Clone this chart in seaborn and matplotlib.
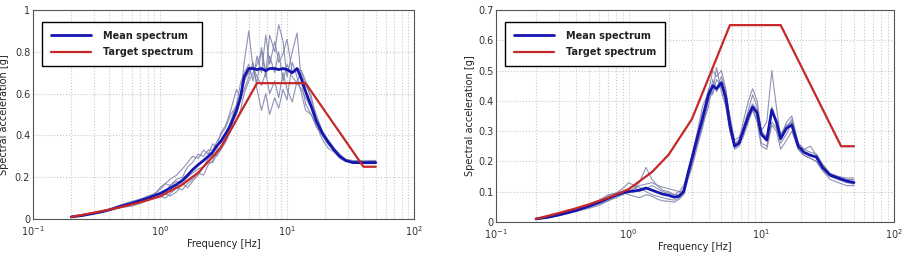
import numpy as np
import pandas as pd
import matplotlib
matplotlib.use('Agg')
import matplotlib.pyplot as plt
import seaborn as sns

# ================================
# Data
# ================================

freq = [0.2, 0.25, 0.3, 0.35, 0.4, 0.5, 0.6, 0.7, 0.8, 0.9,
        1.0, 1.1, 1.2, 1.35, 1.5, 1.65, 1.8, 2.0, 2.2, 2.4,
        2.6, 2.8, 3.0, 3.3, 3.6, 4.0, 4.3, 4.6, 5.0, 5.4,
        5.8, 6.3, 6.8, 7.3, 8.0, 8.6, 9.3, 10, 11, 12,
        13, 14, 15.5, 17, 19, 21, 23.5, 26, 29, 33,
        38, 44, 50]

# target spectrum (same on both panels)
target_freq = [0.2, 0.3, 0.4, 0.5, 0.7, 1.0, 1.5, 2.0, 3.0, 5.8, 14.0, 40.0, 50.0]
target_sa = [0.01, 0.03, 0.045, 0.058, 0.08, 0.108, 0.165, 0.222, 0.34, 0.65, 0.65, 0.25, 0.25]

# left panel
left_mean = [0.010, 0.018, 0.027, 0.035, 0.044, 0.062, 0.075, 0.088, 0.100, 0.112,
             0.122, 0.135, 0.148, 0.165, 0.185, 0.21, 0.235, 0.26, 0.28, 0.30,
             0.32, 0.35, 0.37, 0.41, 0.45, 0.52, 0.58, 0.68, 0.72, 0.72,
             0.715, 0.72, 0.71, 0.72, 0.72, 0.715, 0.72, 0.715, 0.70, 0.72,
             0.67, 0.61, 0.54, 0.47, 0.41, 0.37, 0.33, 0.30, 0.28, 0.27,
             0.27, 0.27, 0.27]
left_rec1 = [0.010, 0.017, 0.026, 0.034, 0.045, 0.065, 0.08, 0.095, 0.11, 0.12,
             0.14, 0.17, 0.19, 0.21, 0.24, 0.27, 0.30, 0.29, 0.33, 0.31,
             0.36, 0.34, 0.41, 0.45, 0.52, 0.62, 0.58, 0.75, 0.90, 0.72,
             0.65, 0.82, 0.70, 0.88, 0.80, 0.93, 0.85, 0.68, 0.80, 0.89,
             0.65, 0.55, 0.50, 0.44, 0.40, 0.36, 0.33, 0.30, 0.28, 0.275,
             0.275, 0.28, 0.28]
left_rec2 = [0.010, 0.019, 0.028, 0.036, 0.046, 0.058, 0.068, 0.08, 0.09, 0.10,
             0.11, 0.10, 0.12, 0.15, 0.14, 0.17, 0.19, 0.22, 0.21, 0.26,
             0.28, 0.33, 0.35, 0.38, 0.45, 0.50, 0.57, 0.62, 0.68, 0.75,
             0.62, 0.52, 0.60, 0.50, 0.58, 0.53, 0.62, 0.57, 0.75, 0.68,
             0.60, 0.52, 0.50, 0.45, 0.38, 0.34, 0.32, 0.29, 0.275, 0.27,
             0.265, 0.265, 0.265]
left_rec3 = [0.011, 0.018, 0.027, 0.036, 0.047, 0.07, 0.085, 0.095, 0.10, 0.115,
             0.15, 0.17, 0.16, 0.19, 0.20, 0.25, 0.27, 0.31, 0.30, 0.33,
             0.33, 0.37, 0.40, 0.44, 0.50, 0.54, 0.65, 0.70, 0.74, 0.66,
             0.78, 0.70, 0.88, 0.74, 0.85, 0.75, 0.79, 0.86, 0.70, 0.72,
             0.71, 0.66, 0.57, 0.50, 0.42, 0.38, 0.34, 0.31, 0.285, 0.28,
             0.28, 0.275, 0.275]
left_rec4 = [0.009, 0.016, 0.025, 0.033, 0.042, 0.055, 0.062, 0.075, 0.09, 0.10,
             0.11, 0.12, 0.11, 0.13, 0.17, 0.15, 0.18, 0.21, 0.25, 0.27,
             0.27, 0.31, 0.34, 0.40, 0.47, 0.55, 0.60, 0.66, 0.70, 0.73,
             0.68, 0.64, 0.70, 0.60, 0.66, 0.58, 0.70, 0.62, 0.56, 0.66,
             0.70, 0.64, 0.59, 0.48, 0.42, 0.36, 0.325, 0.30, 0.28, 0.27,
             0.265, 0.27, 0.27]
left_rec5 = [0.010, 0.018, 0.027, 0.036, 0.044, 0.06, 0.075, 0.09, 0.10, 0.11,
             0.12, 0.13, 0.16, 0.18, 0.17, 0.20, 0.22, 0.24, 0.25, 0.29,
             0.31, 0.30, 0.33, 0.37, 0.42, 0.47, 0.52, 0.60, 0.66, 0.70,
             0.74, 0.80, 0.68, 0.78, 0.70, 0.80, 0.66, 0.74, 0.68, 0.65,
             0.62, 0.58, 0.53, 0.46, 0.40, 0.36, 0.33, 0.30, 0.28, 0.275,
             0.27, 0.27, 0.27]

# right panel
right_mean = [0.010, 0.016, 0.024, 0.031, 0.038, 0.052, 0.065, 0.078, 0.088, 0.096,
              0.10, 0.102, 0.105, 0.112, 0.105, 0.098, 0.092, 0.088, 0.082, 0.085,
              0.10, 0.16, 0.21, 0.28, 0.34, 0.42, 0.45, 0.44, 0.46, 0.41,
              0.32, 0.25, 0.26, 0.30, 0.35, 0.38, 0.36, 0.29, 0.27, 0.37,
              0.33, 0.275, 0.31, 0.32, 0.25, 0.23, 0.22, 0.215, 0.18, 0.155,
              0.145, 0.135, 0.13]
right_rec1 = [0.010, 0.015, 0.022, 0.03, 0.036, 0.048, 0.06, 0.07, 0.08, 0.09,
              0.10, 0.11, 0.13, 0.18, 0.14, 0.12, 0.105, 0.10, 0.09, 0.09,
              0.11, 0.17, 0.22, 0.30, 0.38, 0.43, 0.50, 0.48, 0.50, 0.44,
              0.34, 0.26, 0.27, 0.33, 0.40, 0.44, 0.40, 0.30, 0.33, 0.50,
              0.38, 0.28, 0.33, 0.35, 0.26, 0.24, 0.25, 0.22, 0.19, 0.16,
              0.15, 0.145, 0.145]
right_rec2 = [0.011, 0.017, 0.025, 0.032, 0.040, 0.055, 0.070, 0.085, 0.095, 0.11,
              0.13, 0.12, 0.10, 0.11, 0.12, 0.11, 0.10, 0.095, 0.09, 0.10,
              0.12, 0.16, 0.20, 0.27, 0.35, 0.44, 0.42, 0.47, 0.45, 0.39,
              0.30, 0.25, 0.27, 0.29, 0.34, 0.37, 0.34, 0.26, 0.25, 0.33,
              0.31, 0.26, 0.29, 0.33, 0.24, 0.22, 0.21, 0.20, 0.17, 0.15,
              0.14, 0.13, 0.125]
right_rec3 = [0.009, 0.014, 0.021, 0.028, 0.034, 0.045, 0.055, 0.070, 0.085, 0.10,
              0.09, 0.085, 0.08, 0.09, 0.085, 0.075, 0.07, 0.068, 0.065, 0.075,
              0.09, 0.14, 0.18, 0.25, 0.31, 0.40, 0.43, 0.51, 0.43, 0.38,
              0.30, 0.24, 0.25, 0.28, 0.33, 0.37, 0.33, 0.25, 0.24, 0.32,
              0.30, 0.24, 0.27, 0.30, 0.24, 0.22, 0.21, 0.20, 0.17, 0.14,
              0.13, 0.12, 0.12]
right_rec4 = [0.010, 0.017, 0.026, 0.034, 0.042, 0.058, 0.072, 0.090, 0.095, 0.10,
              0.11, 0.12, 0.115, 0.10, 0.09, 0.085, 0.08, 0.075, 0.072, 0.08,
              0.10, 0.15, 0.19, 0.26, 0.32, 0.38, 0.47, 0.43, 0.46, 0.42,
              0.35, 0.27, 0.28, 0.31, 0.37, 0.42, 0.38, 0.29, 0.28, 0.38,
              0.33, 0.28, 0.31, 0.34, 0.26, 0.24, 0.23, 0.225, 0.19, 0.16,
              0.15, 0.14, 0.14]
right_rec5 = [0.010, 0.016, 0.024, 0.032, 0.039, 0.052, 0.065, 0.075, 0.085, 0.095,
              0.10, 0.11, 0.12, 0.125, 0.13, 0.12, 0.115, 0.11, 0.105, 0.10,
              0.10, 0.15, 0.22, 0.29, 0.36, 0.42, 0.44, 0.44, 0.48, 0.43,
              0.33, 0.26, 0.26, 0.31, 0.36, 0.39, 0.37, 0.30, 0.28, 0.36,
              0.34, 0.29, 0.32, 0.33, 0.25, 0.23, 0.22, 0.21, 0.18, 0.155,
              0.145, 0.135, 0.135]

# ================================
# Plot
# ================================

sns.set_style('white')
plt.rcParams['font.family'] = ['DejaVu Sans']

rec_color = '#7c80a8'
mean_color = '#1515b0'
target_color = '#c62828'

fig = plt.figure(figsize=(9.02, 2.56), dpi=100)
ax1 = fig.add_axes([0.0366, 0.1445, 0.4224, 0.8164])
ax2 = fig.add_axes([0.550, 0.133, 0.441, 0.828])

panels = [
    (ax1, [left_rec1, left_rec2, left_rec3, left_rec4, left_rec5], left_mean, 1.0, 0.2, -0.062),
    (ax2, [right_rec1, right_rec2, right_rec3, right_rec4, right_rec5], right_mean, 0.7, 0.1, -0.052),
]

for ax, recs, mean, ymax, ystep, ylab_x in panels:
    for rec in recs:
        sns.lineplot(x=freq, y=rec, ax=ax, color=rec_color, lw=0.8,
                     alpha=0.85, estimator=None, sort=False)
    sns.lineplot(x=freq, y=mean, ax=ax, color=mean_color, lw=2.0,
                 estimator=None, sort=False, label='Mean spectrum')
    sns.lineplot(x=target_freq, y=target_sa, ax=ax, color=target_color, lw=1.6,
                 estimator=None, sort=False, label='Target spectrum')

    ax.set_xscale('log')
    ax.set_xlim(0.1, 100)
    ax.set_ylim(0, ymax)
    yt = np.arange(0, ymax + 1e-9, ystep)
    ax.set_yticks(yt)
    ax.set_yticklabels(['0' if v == 0 else ('1' if abs(v - 1) < 1e-9 else f'{v:.1f}') for v in yt])
    ax.grid(True, which='major', axis='both', color='#c8c8c8', ls=':', lw=0.8)
    ax.grid(True, which='minor', axis='x', color='#c8c8c8', ls=':', lw=0.8)
    ax.tick_params(axis='both', which='major', labelsize=7, length=3, direction='in',
                   colors='#333333', pad=2)
    ax.tick_params(axis='x', which='major', pad=3.5)
    ax.tick_params(axis='x', which='minor', length=1.5, direction='in')
    for s in ax.spines.values():
        s.set_color('#555555')
        s.set_linewidth(0.8)
    ax.set_xlabel('Frequency [Hz]', fontsize=7, labelpad=1, color='#222222')
    ax.set_ylabel('Spectral acceleration [g]', fontsize=7, color='#222222')
    ax.yaxis.set_label_coords(ylab_x, 0.5)

    leg = ax.legend(loc='upper left', fontsize=7, frameon=True, fancybox=False,
                    edgecolor='black', framealpha=1, handlelength=4.2,
                    borderpad=0.9, labelspacing=0.7, handletextpad=1.2,
                    bbox_to_anchor=(0.0, 0.985), borderaxespad=0.9)
    leg.get_frame().set_linewidth(1.0)
    for t in leg.get_texts():
        t.set_fontweight('bold')
        t.set_color('#222222')

fig.savefig('out.png', dpi=100)
